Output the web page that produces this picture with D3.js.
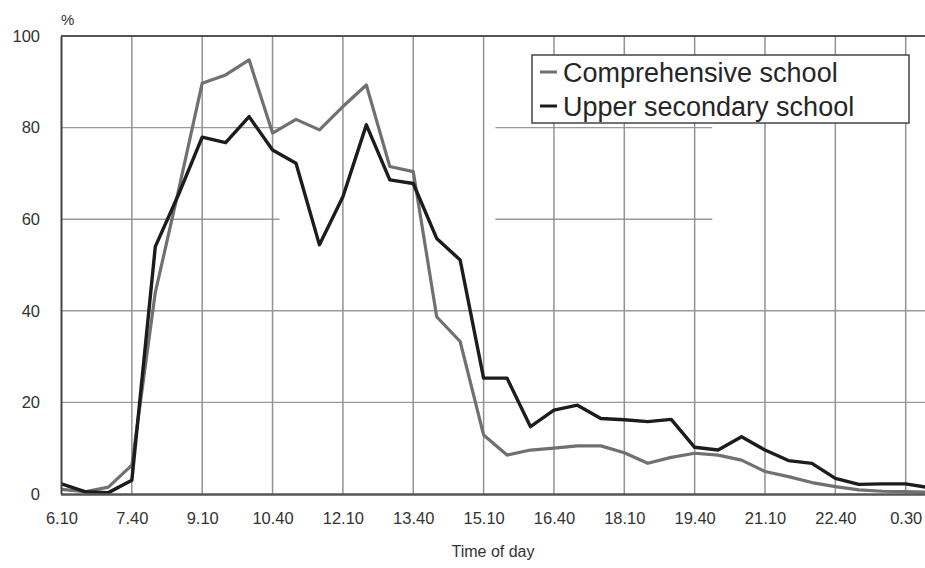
<!DOCTYPE html>
<html>
<head>
<meta charset="utf-8">
<script src="https://cdn.jsdelivr.net/npm/d3@7"></script>
<style>
  html, body { margin: 0; padding: 0; background: #fff; }
  svg { display: block; font-family: "Liberation Sans", Arial, sans-serif; }
</style>
</head>
<body>
<svg id="chart" width="925" height="568"></svg>
<script>
// ---- data ----
const timeLabels = ["6.10","7.40","9.10","10.40","12.10","13.40","15.10","16.40","18.10","19.40","21.10","22.40","0.30"];
const seriesNames = ["Comprehensive school", "Upper secondary school"];
const comprehensive = [1.0, 0.5, 1.5, 6.3, 44, 66.5, 89.7, 91.5, 94.8, 78.8, 81.8, 79.5, 84.6, 89.3, 71.5, 70.4, 38.7, 33.3, 12.9, 8.5, 9.6, 10.0, 10.5, 10.5, 9.0, 6.7, 8.0, 8.9, 8.5, 7.4, 4.9, 3.8, 2.5, 1.6, 0.9, 0.6, 0.5, 0.4];
const upperSecondary = [2.2, 0.5, 0.3, 3.0, 54, 65.5, 77.9, 76.7, 82.4, 75.1, 72.2, 54.4, 64.9, 80.6, 68.6, 67.8, 55.8, 51.1, 25.3, 25.3, 14.7, 18.3, 19.4, 16.5, 16.2, 15.8, 16.3, 10.2, 9.6, 12.5, 9.6, 7.3, 6.7, 3.4, 2.1, 2.2, 2.2, 1.4];
const yTicks = [0, 20, 40, 60, 80, 100];
const labelStep = 3; // one time label every 3 half-hour points
// partial gridlines (as in the scanned original), in point-index units
const partialGridValues = [60, 80];
const partialGridSpans = [[-0.1, 9.3], [18.5, 27.75]];

// ---- layout ----
const svg = d3.select("#chart");
const W = 925, H = 568;
const x = d3.scaleLinear().domain([0, 36]).range([61.5, 905.7]);
const y = d3.scaleLinear().domain([0, 100]).range([494, 36]);
const xLeft = 61, xRight = W;
const gridColor = "#9a9a9a";

svg.append("rect").attr("width", W).attr("height", H).attr("fill", "#fff");

const grid = svg.append("g");
grid.selectAll("line.h").data([20, 40]).enter().append("line")
  .attr("x1", xLeft).attr("x2", xRight)
  .attr("y1", d => y(d)).attr("y2", d => y(d))
  .attr("stroke", gridColor).attr("stroke-width", 1.4);
partialGridValues.forEach(v => {
  grid.selectAll(null).data(partialGridSpans).enter().append("line")
    .attr("x1", d => Math.max(xLeft, x(d[0]))).attr("x2", d => x(d[1]))
    .attr("y1", y(v)).attr("y2", y(v))
    .attr("stroke", gridColor).attr("stroke-width", 1.4);
});
const tickIdx = timeLabels.map((_, i) => i * labelStep);
grid.selectAll("line.v").data(tickIdx.slice(1)).enter().append("line")
  .attr("x1", d => x(d)).attr("x2", d => x(d))
  .attr("y1", y(100)).attr("y2", y(0))
  .attr("stroke", "#929292").attr("stroke-width", 1.5);
svg.append("line").attr("x1", xLeft).attr("x2", xRight)
  .attr("y1", y(100)).attr("y2", y(100))
  .attr("stroke", "#555").attr("stroke-width", 2);

// ---- lines ----
const line = d3.line().x((d, i) => x(i)).y(d => y(d));
svg.append("path").datum(comprehensive)
  .attr("d", line).attr("fill", "none")
  .attr("stroke", "#707070").attr("stroke-width", 3.2).attr("stroke-linejoin", "round");
svg.append("path").datum(upperSecondary)
  .attr("d", line).attr("fill", "none")
  .attr("stroke", "#1c1c1c").attr("stroke-width", 3.4).attr("stroke-linejoin", "round");

// ---- axes ----
const yAxis = d3.axisLeft(y).tickValues(yTicks).tickSize(0).tickPadding(21);
const gy = svg.append("g").attr("transform", `translate(${xLeft},0)`).call(yAxis);
gy.select(".domain").attr("stroke", "#444").attr("stroke-width", 2);
gy.selectAll("text").attr("font-size", 16.5).attr("fill", "#333")
  .attr("font-family", "Liberation Sans, Arial, sans-serif");

const xAxis = d3.axisBottom(x).tickValues(tickIdx).tickSize(0).tickPadding(18)
  .tickFormat((d, i) => timeLabels[i]);
const gx = svg.append("g").attr("transform", `translate(0,${y(0)})`).call(xAxis);
gx.select(".domain").remove();
svg.append("line").attr("x1", xLeft).attr("x2", xRight)
  .attr("y1", y(0) + 0.5).attr("y2", y(0) + 0.5)
  .attr("stroke", "#555").attr("stroke-width", 2.5);
gx.selectAll("text").attr("font-size", 16.5).attr("fill", "#333")
  .attr("font-family", "Liberation Sans, Arial, sans-serif");

svg.append("text").attr("x", 61).attr("y", 25).attr("font-size", 15)
  .attr("fill", "#333").text("%");
svg.append("text").attr("x", 493).attr("y", 557).attr("text-anchor", "middle")
  .attr("font-size", 16).attr("fill", "#333").text("Time of day");

// ---- legend ----
const lg = svg.append("g");
lg.append("rect").attr("x", 532).attr("y", 55).attr("width", 377).attr("height", 68)
  .attr("fill", "#fff").attr("stroke", "#444").attr("stroke-width", 1.5);
const legendColors = ["#707070", "#1c1c1c"];
seriesNames.forEach((name, i) => {
  const cy = 72 + i * 34;
  lg.append("line").attr("x1", 540).attr("x2", 557).attr("y1", cy).attr("y2", cy)
    .attr("stroke", legendColors[i]).attr("stroke-width", 3);
  lg.append("text").attr("x", 563).attr("y", cy + 10)
    .attr("font-size", 27).attr("fill", "#262626").text(name);
});
</script>
</body>
</html>
